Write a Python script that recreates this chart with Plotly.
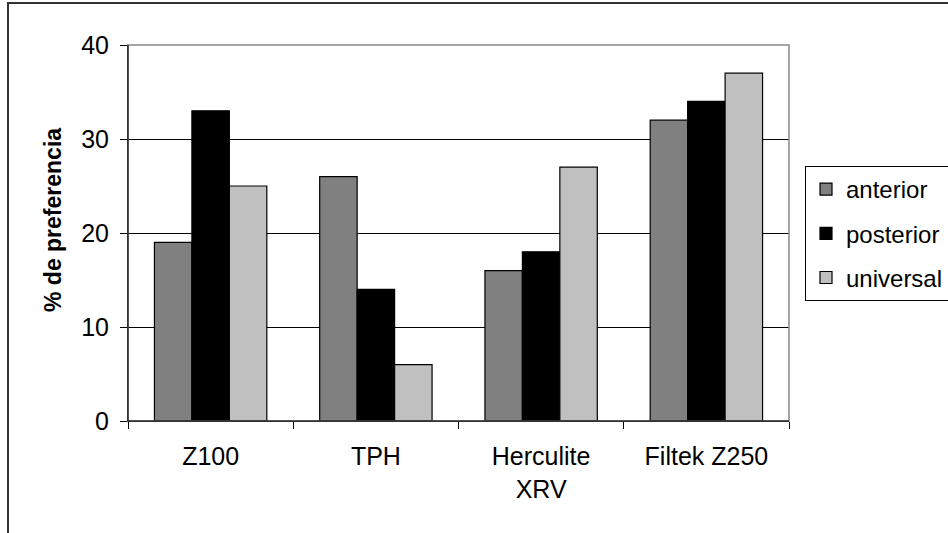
import plotly.graph_objects as go

categories = ["Z100", "TPH", "Herculite<br>XRV", "Filtek Z250"]
anterior = [19, 26, 16, 32]
posterior = [33, 14, 18, 34]
universal = [25, 6, 27, 37]
series_names = ["anterior", "posterior", "universal"]
series_colors = ["#808080", "#000000", "#C0C0C0"]
y_ticks = [0, 10, 20, 30, 40]

W, H = 948, 533
L, R, T, B = 128, 789, 45, 421
pw, ph = R - L, B - T

FONT = "Liberation Sans, Arial, sans-serif"

fig = go.Figure()
for i, (name, vals, col) in enumerate(zip(series_names, [anterior, posterior, universal], series_colors)):
    fig.add_trace(go.Bar(
        x=categories, y=vals, name=name, legendgroup=name,
        marker=dict(color=col, line=dict(color="#000000", width=1.2)),
    ))

def px_x(p):
    return (p - L) / pw

def px_y(p):
    return (B - p) / ph

fig.update_layout(
    width=W, height=H,
    margin=dict(l=L, r=W - R, t=T, b=H - B, autoexpand=False),
    paper_bgcolor="white", plot_bgcolor="white",
    font=dict(family=FONT, size=25, color="#000000"),
    barmode="group", bargap=0.32, bargroupgap=0,
    showlegend=True,
    legend=dict(
        x=px_x(805), y=px_y(166), xanchor="left", yanchor="top",
        bordercolor="#000000", borderwidth=1, bgcolor="white",
        font=dict(family=FONT, size=24), tracegroupgap=10,
        traceorder="grouped",
    ),
    xaxis=dict(
        type="category", showgrid=False, showline=True, linecolor="#000000", linewidth=1,
        ticks="outside", tickson="boundaries", ticklen=7, tickcolor="#000000",
        tickfont=dict(family=FONT, size=25), ticklabelstandoff=13,
    ),
    yaxis=dict(
        range=[0, 40], tickvals=y_ticks, showgrid=True, gridcolor="#000000", gridwidth=1,
        showline=True, linecolor="#000000", linewidth=1, zeroline=False,
        ticks="outside", ticklen=7, tickcolor="#000000",
        tickfont=dict(family=FONT, size=25), ticklabelstandoff=6,
    ),
    shapes=[
        dict(type="rect", xref="paper", yref="paper", x0=0, x1=1, y0=0, y1=1,
             line=dict(color="#888888", width=1.5), layer="above"),
        dict(type="line", xref="paper", yref="paper", x0=0, x1=0, y0=0, y1=1,
             line=dict(color="#000000", width=1), layer="above"),
        dict(type="line", xref="paper", yref="paper", x0=0, x1=1, y0=0, y1=0,
             line=dict(color="#000000", width=1), layer="above"),
        dict(type="rect", xref="paper", yref="paper",
             x0=px_x(8), x1=px_x(W + 20), y0=px_y(H + 20), y1=px_y(3),
             line=dict(color="#333333", width=2), layer="below"),
    ],
    annotations=[
        dict(text="<b>% de preferencia</b>", textangle=-90, xref="paper", yref="paper",
             x=px_x(53), y=px_y(220), xanchor="center", yanchor="middle",
             showarrow=False, font=dict(family=FONT, size=23, color="#000000")),
    ],
)

fig.write_html(
    "out.html",
    config={"displayModeBar": False},
    post_script="document.body.style.margin='0';document.body.style.overflow='hidden';",
)
